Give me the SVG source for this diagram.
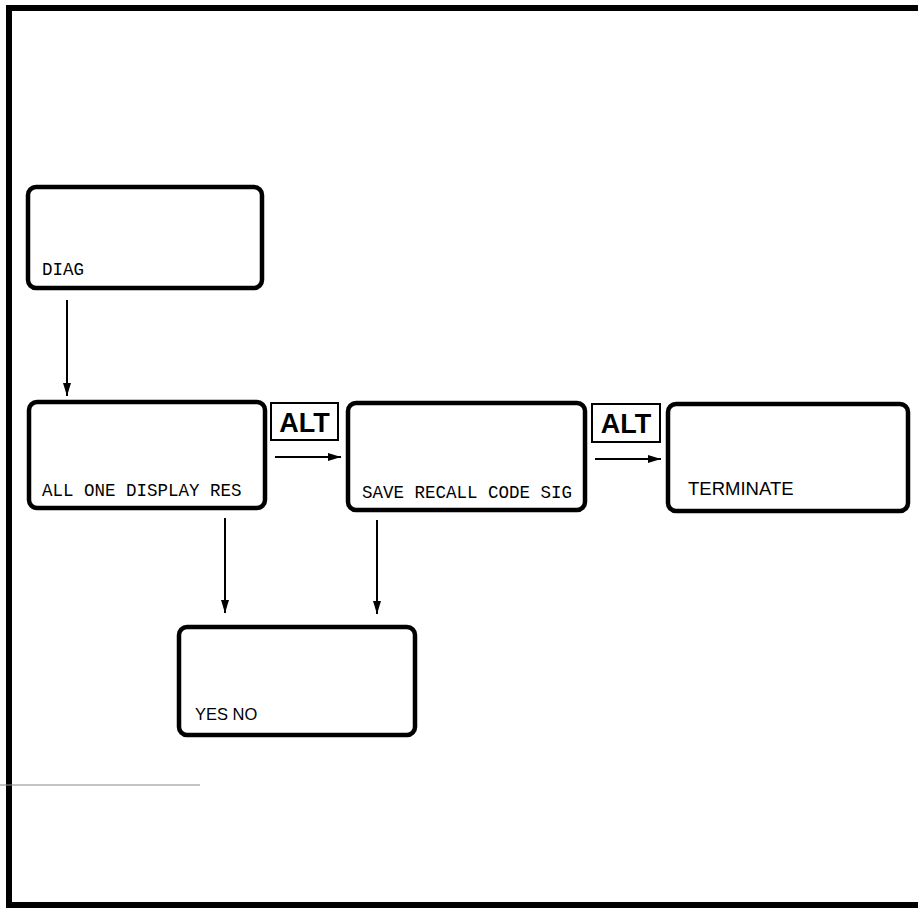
<svg xmlns="http://www.w3.org/2000/svg" width="918" height="908" viewBox="0 0 918 908">
<style>
.box{fill:#fff;stroke:#000;stroke-width:4.5}
.alt{fill:#fff;stroke:#000;stroke-width:2}
.lcd{font-family:"Liberation Mono","DejaVu Sans Mono",monospace;font-size:17.5px;fill:#000}
.sans{font-family:"Liberation Sans",Arial,sans-serif;fill:#000}
.altt{font-family:"Liberation Sans",Arial,sans-serif;font-weight:bold;font-size:27px;fill:#000}
.conn{stroke:#000;stroke-width:2;fill:none}
</style>
<defs>
<marker id="ah" viewBox="0 0 13 8" refX="13" refY="4" markerWidth="13" markerHeight="8" markerUnits="userSpaceOnUse" orient="auto">
<path d="M0,0 L13,4 L0,8 Z" fill="#000"/>
</marker>
</defs>
<rect width="918" height="908" fill="#fff"/>
<g id="frame" fill="none" stroke="#000">
<path d="M918,8 H9 V905 H918" stroke-width="6"/>
<line x1="0" y1="785" x2="200" y2="785" stroke="#888" stroke-width="1"/>
</g>
<g id="diag">
<rect class="box" x="28" y="187" width="234" height="101" rx="8"/>
<text class="lcd" x="42" y="275">DIAG</text>
</g>
<g id="allone">
<rect class="box" x="29" y="402" width="236" height="106" rx="8"/>
<text class="lcd" x="42" y="496">ALL ONE DISPLAY RES</text>
</g>
<g id="save">
<rect class="box" x="348" y="403" width="237" height="107" rx="8"/>
<text class="lcd" x="362" y="498">SAVE RECALL CODE SIG</text>
</g>
<g id="terminate">
<rect class="box" x="668" y="404" width="240" height="107" rx="8"/>
<text class="sans" x="688" y="495" font-size="18.5">TERMINATE</text>
</g>
<g id="yesno">
<rect class="box" x="179" y="627" width="236" height="108" rx="8"/>
<text class="sans" x="195" y="720" font-size="16.5">YES NO</text>
</g>
<g id="alt1">
<rect class="alt" x="271" y="403" width="67" height="37"/>
<text class="altt" x="304.5" y="432" text-anchor="middle">ALT</text>
</g>
<g id="alt2">
<rect class="alt" x="592" y="404" width="68" height="38"/>
<text class="altt" x="626" y="433" text-anchor="middle">ALT</text>
</g>
<g id="connectors">
<line class="conn" x1="67" y1="300" x2="67" y2="396" marker-end="url(#ah)"/>
<line class="conn" x1="275" y1="457" x2="341" y2="457" marker-end="url(#ah)"/>
<line class="conn" x1="595" y1="459" x2="661" y2="459" marker-end="url(#ah)"/>
<line class="conn" x1="225" y1="518" x2="225" y2="613" marker-end="url(#ah)"/>
<line class="conn" x1="377" y1="520" x2="377" y2="614" marker-end="url(#ah)"/>
</g>
</svg>
